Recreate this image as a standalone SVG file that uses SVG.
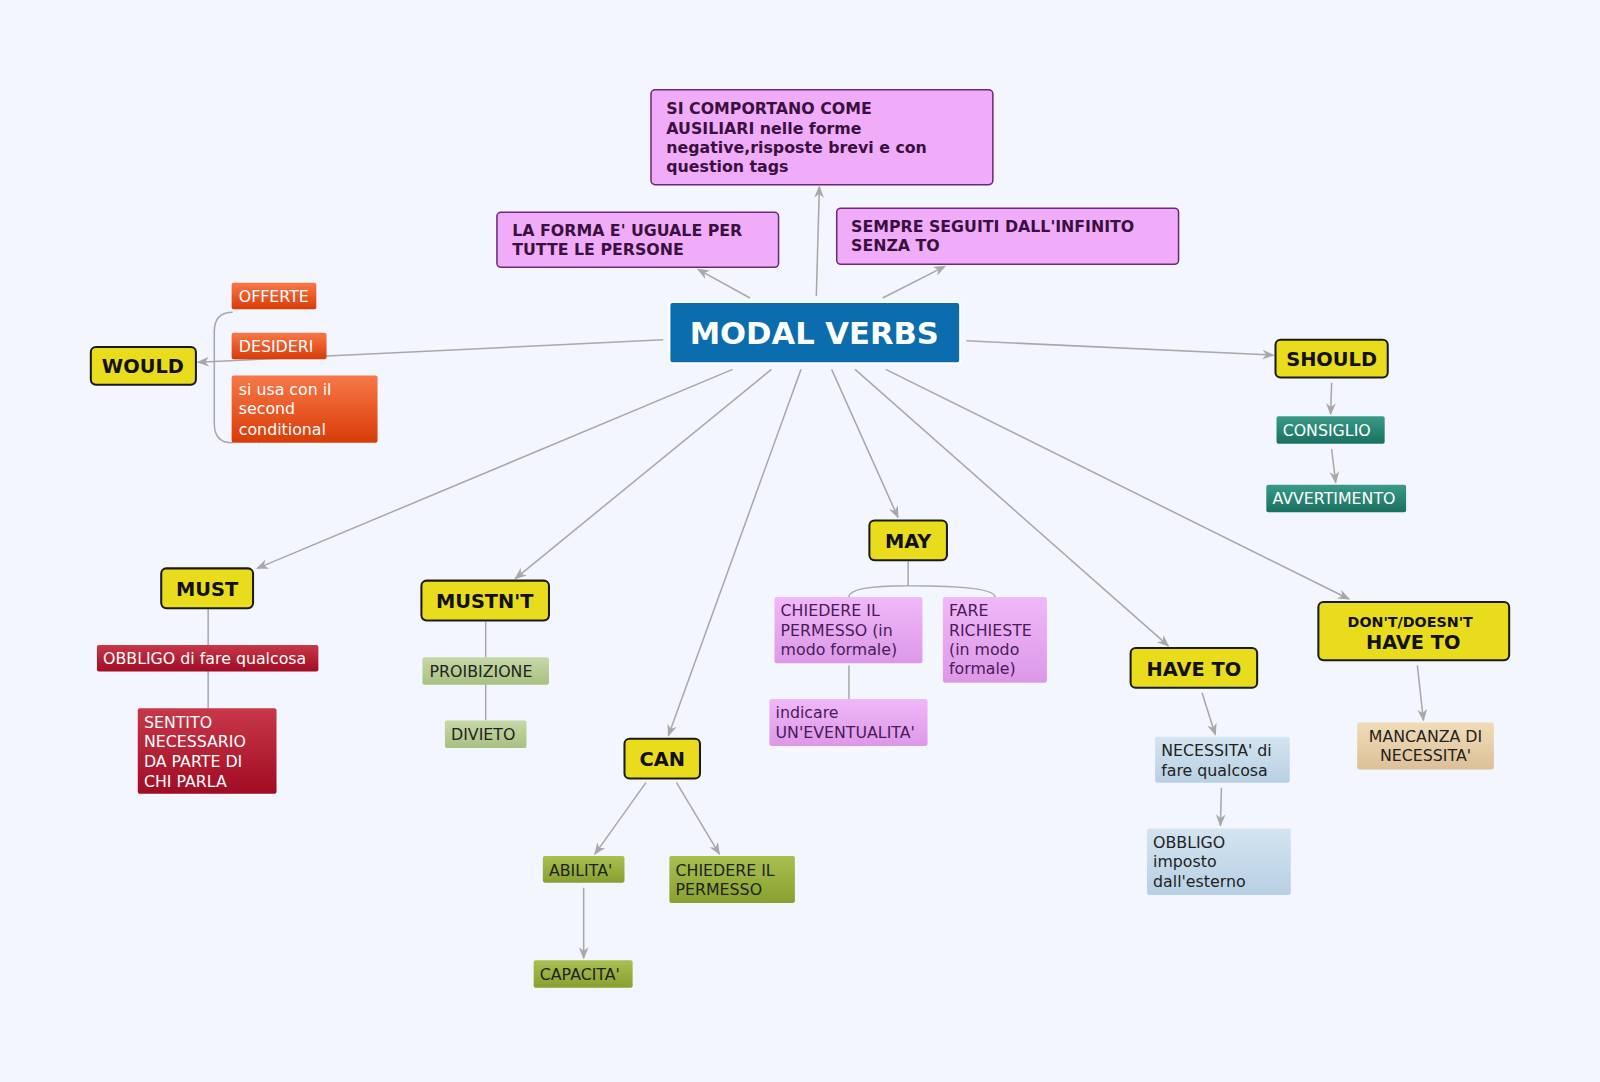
<svg xmlns="http://www.w3.org/2000/svg" width="1600" height="1082" viewBox="0 0 1600 1082">
<defs>
<marker id="ar" viewBox="0 0 10 10" refX="9" refY="5" markerWidth="8" markerHeight="8" orient="auto-start-reverse"><path d="M0,1 L10,5 L0,9 L3,5 Z" fill="#a8a8a8"/></marker>
<linearGradient id="gOr" x1="0" y1="0" x2="0" y2="1"><stop offset="0" stop-color="#f87848"/><stop offset="1" stop-color="#d83c08"/></linearGradient>
<linearGradient id="gRed" x1="0" y1="0" x2="0" y2="1"><stop offset="0" stop-color="#c83848"/><stop offset="1" stop-color="#a00c24"/></linearGradient>
<linearGradient id="gPk" x1="0" y1="0" x2="0" y2="1"><stop offset="0" stop-color="#f0b8f8"/><stop offset="1" stop-color="#dc98e8"/></linearGradient>
<linearGradient id="gGr" x1="0" y1="0" x2="0" y2="1"><stop offset="0" stop-color="#a8c050"/><stop offset="1" stop-color="#88a030"/></linearGradient>
<linearGradient id="gLg" x1="0" y1="0" x2="0" y2="1"><stop offset="0" stop-color="#c8d8a8"/><stop offset="1" stop-color="#a8c080"/></linearGradient>
<linearGradient id="gTl" x1="0" y1="0" x2="0" y2="1"><stop offset="0" stop-color="#3a9a88"/><stop offset="1" stop-color="#1a7060"/></linearGradient>
<linearGradient id="gBl" x1="0" y1="0" x2="0" y2="1"><stop offset="0" stop-color="#d4e4f0"/><stop offset="1" stop-color="#b8d0e4"/></linearGradient>
<linearGradient id="gTn" x1="0" y1="0" x2="0" y2="1"><stop offset="0" stop-color="#f0dcb8"/><stop offset="1" stop-color="#dcc098"/></linearGradient>
</defs>
<style>
text{font-family:"DejaVu Sans","Verdana",sans-serif}
.y{fill:#e8dc1c;stroke:#1a1a1a;stroke-width:2}
.yt{font-size:19px;font-weight:bold;fill:#111;text-anchor:middle}
.p{fill:#f0acf8;stroke:#6a2a7a;stroke-width:1.5}
.pt{font-size:15.5px;font-weight:bold;fill:#3a1040}
.w{font-size:15.5px;fill:#fff}
.d{font-size:15.5px;fill:#222}
.dp{font-size:15.5px;fill:#4a1a5a}
.c line,.c path{stroke:#a8a8a8;stroke-width:1.5;fill:none}
.a{marker-end:url(#ar)}
</style>
<rect width="1600" height="1082" fill="#f3f6fe"/>
<g transform="scale(1.0204)">
<g class="c">
<line class="a" x1="650" y1="333" x2="194" y2="355"/>
<line class="a" x1="947" y1="334" x2="1248" y2="348"/>
<line class="a" x1="735" y1="292" x2="684" y2="264"/>
<line class="a" x1="800" y1="290" x2="803" y2="183"/>
<line class="a" x1="865" y1="292" x2="926" y2="261"/>
<line class="a" x1="718" y1="362" x2="252" y2="557"/>
<line class="a" x1="756" y1="362" x2="505" y2="567"/>
<line class="a" x1="785" y1="362" x2="655" y2="721"/>
<line class="a" x1="815" y1="362" x2="880" y2="507"/>
<line class="a" x1="838" y1="362" x2="1145" y2="633"/>
<line class="a" x1="868" y1="362" x2="1322" y2="587"/>
<line class="a" x1="1305" y1="375" x2="1304" y2="406"/>
<line class="a" x1="1305" y1="440" x2="1309" y2="473"/>
<line class="a" x1="633" y1="767" x2="583" y2="837"/>
<line class="a" x1="663" y1="767" x2="705" y2="837"/>
<line class="a" x1="572" y1="870" x2="572" y2="939"/>
<line class="a" x1="1178" y1="679" x2="1191" y2="720"/>
<line class="a" x1="1197" y1="772" x2="1196" y2="809"/>
<line class="a" x1="1389" y1="652" x2="1395" y2="706"/>
<path d="M228,306 Q210,306 210,325 L210,415 Q210,434 228,434"/>
<line x1="204" y1="597" x2="204" y2="694"/>
<line x1="476" y1="609" x2="476" y2="706"/>
<path d="M890,550 L890,574 M832,585 Q832,574 890,574 Q975,574 975,585"/>
<line x1="832" y1="652" x2="832" y2="685"/>
</g>
<g id="central"><rect x="656" y="296" width="285" height="60" rx="3" fill="#0b6dae" stroke="#fff" stroke-width="2"/><text x="798" y="337" font-size="30" font-weight="bold" fill="#fff" text-anchor="middle">MODAL VERBS</text></g>
<g id="n-sicomportano"><rect class="p" x="638" y="88" width="335" height="93" rx="4"/><text class="pt" x="653" y="112">SI COMPORTANO COME</text><text class="pt" x="653" y="131">AUSILIARI nelle forme</text><text class="pt" x="653" y="150">negative,risposte brevi e con</text><text class="pt" x="653" y="169">question tags</text></g>
<g id="n-forma"><rect class="p" x="487" y="208" width="276" height="54" rx="4"/><text class="pt" x="502" y="231">LA FORMA E' UGUALE PER</text><text class="pt" x="502" y="250">TUTTE LE PERSONE</text></g>
<g id="n-sempre"><rect class="p" x="820" y="204" width="335" height="55" rx="4"/><text class="pt" x="834" y="227">SEMPRE SEGUITI DALL'INFINITO</text><text class="pt" x="834" y="246">SENZA TO</text></g>
<g id="n-would"><rect class="y" x="89" y="340" width="103" height="37" rx="5"/><text class="yt" x="140" y="366">WOULD</text></g>
<g id="n-should"><rect class="y" x="1250" y="333" width="110" height="37" rx="5"/><text class="yt" x="1305" y="359">SHOULD</text></g>
<g id="n-must"><rect class="y" x="158" y="557" width="90" height="39" rx="5"/><text class="yt" x="203" y="584">MUST</text></g>
<g id="n-mustnt"><rect class="y" x="413" y="569" width="125" height="39" rx="5"/><text class="yt" x="475" y="596">MUSTN'T</text></g>
<g id="n-can"><rect class="y" x="612" y="724" width="74" height="39" rx="5"/><text class="yt" x="649" y="751">CAN</text></g>
<g id="n-may"><rect class="y" x="852" y="510" width="76" height="39" rx="5"/><text class="yt" x="890" y="537">MAY</text></g>
<g id="n-haveto"><rect class="y" x="1108" y="635" width="124" height="39" rx="5"/><text class="yt" x="1170" y="662">HAVE TO</text></g>
<g id="n-dont"><rect class="y" x="1292" y="590" width="187" height="57" rx="5"/><text x="1382" y="614" font-size="14" font-weight="bold" fill="#111" text-anchor="middle">DON'T/DOESN'T</text><text class="yt" x="1385" y="636">HAVE TO</text></g>
<g id="n-offerte"><rect x="227" y="277" width="83" height="26" rx="2" fill="url(#gOr)"/><text class="w" x="234" y="296">OFFERTE</text></g>
<g id="n-desideri"><rect x="227" y="326" width="93" height="26" rx="2" fill="url(#gOr)"/><text class="w" x="234" y="345">DESIDERI</text></g>
<g id="n-siusa"><rect x="227" y="368" width="143" height="66" rx="2" fill="url(#gOr)"/><text class="w" x="234" y="387">si usa con il</text><text class="w" x="234" y="406">second</text><text class="w" x="234" y="426">conditional</text></g>
<g id="n-consiglio"><rect x="1251" y="408" width="106" height="27" rx="2" fill="url(#gTl)"/><text class="w" x="1257" y="427">CONSIGLIO</text></g>
<g id="n-avvertimento"><rect x="1241" y="475" width="137" height="27" rx="2" fill="url(#gTl)"/><text class="w" x="1247" y="494">AVVERTIMENTO</text></g>
<g id="n-obbligo"><rect x="95" y="632" width="217" height="26" rx="2" fill="url(#gRed)"/><text class="w" x="101" y="651">OBBLIGO di fare qualcosa</text></g>
<g id="n-sentito"><rect x="135" y="694" width="136" height="84" rx="2" fill="url(#gRed)"/><text class="w" x="141" y="713">SENTITO</text><text class="w" x="141" y="732">NECESSARIO</text><text class="w" x="141" y="752">DA PARTE DI</text><text class="w" x="141" y="771">CHI PARLA</text></g>
<g id="n-proibizione"><rect x="414" y="644" width="124" height="27" rx="2" fill="url(#gLg)"/><text class="d" x="421" y="663">PROIBIZIONE</text></g>
<g id="n-divieto"><rect x="436" y="706" width="80" height="27" rx="2" fill="url(#gLg)"/><text class="d" x="442" y="725">DIVIETO</text></g>
<g id="n-abilita"><rect x="532" y="839" width="80" height="26" rx="2" fill="url(#gGr)"/><text class="d" x="538" y="858">ABILITA'</text></g>
<g id="n-capacita"><rect x="523" y="941" width="97" height="27" rx="2" fill="url(#gGr)"/><text class="d" x="529" y="960">CAPACITA'</text></g>
<g id="n-chiedere"><rect x="656" y="839" width="123" height="46" rx="2" fill="url(#gGr)"/><text class="d" x="662" y="858">CHIEDERE IL</text><text class="d" x="662" y="877">PERMESSO</text></g>
<g id="n-chiedereform"><rect x="759" y="585" width="145" height="65" rx="2" fill="url(#gPk)"/><text class="dp" x="765" y="604">CHIEDERE IL</text><text class="dp" x="765" y="623">PERMESSO (in</text><text class="dp" x="765" y="642">modo formale)</text></g>
<g id="n-fare"><rect x="924" y="585" width="102" height="84" rx="2" fill="url(#gPk)"/><text class="dp" x="930" y="604">FARE</text><text class="dp" x="930" y="623">RICHIESTE</text><text class="dp" x="930" y="642">(in modo</text><text class="dp" x="930" y="661">formale)</text></g>
<g id="n-indicare"><rect x="754" y="685" width="155" height="46" rx="2" fill="url(#gPk)"/><text class="dp" x="760" y="704">indicare</text><text class="dp" x="760" y="723">UN'EVENTUALITA'</text></g>
<g id="n-necessita"><rect x="1132" y="722" width="132" height="45" rx="2" fill="url(#gBl)"/><text class="d" x="1138" y="741">NECESSITA' di</text><text class="d" x="1138" y="760">fare qualcosa</text></g>
<g id="n-obbligoimposto"><rect x="1124" y="812" width="141" height="65" rx="2" fill="url(#gBl)"/><text class="d" x="1130" y="831">OBBLIGO</text><text class="d" x="1130" y="850">imposto</text><text class="d" x="1130" y="869">dall'esterno</text></g>
<g id="n-mancanza"><rect x="1330" y="708" width="134" height="46" rx="2" fill="url(#gTn)"/><text class="d" x="1397" y="727" text-anchor="middle">MANCANZA DI</text><text class="d" x="1397" y="746" text-anchor="middle">NECESSITA'</text></g>
</g>
</svg>
